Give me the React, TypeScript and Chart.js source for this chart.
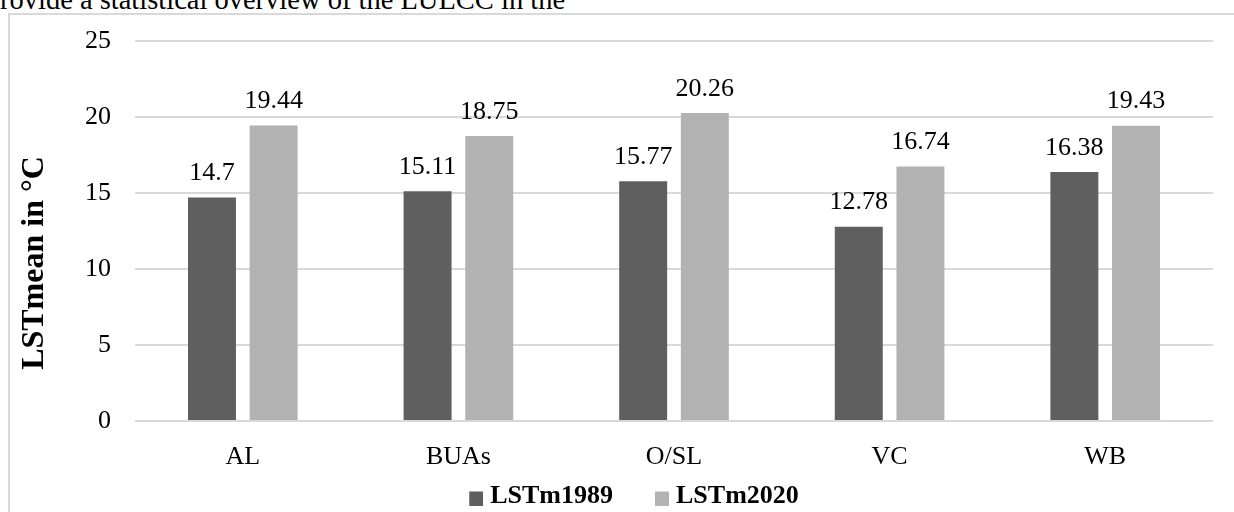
import { useEffect, useRef } from 'react';
import { Chart, registerables } from 'chart.js';

Chart.register(...registerables);

// Land-cover classes and mean land surface temperature (°C) per year
const categories = ['AL', 'BUAs', 'O/SL', 'VC', 'WB'];
const lst1989 = [14.7, 15.11, 15.77, 12.78, 16.38];
const lst2020 = [19.44, 18.75, 20.26, 16.74, 19.43];
const seriesNames = ['LSTm1989', 'LSTm2020'];
const seriesColors = ['#5f5f5f', '#b2b2b2'];
const yTicks = [0, 5, 10, 15, 20, 25];

const SERIF = '"Liberation Serif", "Times New Roman", serif';

// Legend swatch: a 14px square at the right end of a wide, transparent image,
// so it sits just before the label text and level with it
function makeSwatch(color: string): HTMLCanvasElement {
  const c = document.createElement('canvas');
  c.width = 47;
  c.height = 19;
  const g = c.getContext('2d');
  if (g) {
    g.fillStyle = color;
    g.fillRect(33, 5, 14, 14);
  }
  return c;
}

// Writes each bar's value above it
const valueLabels = {
  id: 'valueLabels',
  afterDatasetsDraw(chart: any) {
    const { ctx } = chart;
    ctx.save();
    ctx.font = `26px ${SERIF}`;
    ctx.fillStyle = '#000';
    ctx.textAlign = 'center';
    ctx.textBaseline = 'alphabetic';
    chart.data.datasets.forEach((ds: any, di: number) => {
      const meta = chart.getDatasetMeta(di);
      meta.data.forEach((el: any, i: number) => {
        ctx.fillText(String(ds.data[i]), el.x, el.y - 17.5);
      });
    });
    ctx.restore();
  },
};

function LstChart() {
  const ref = useRef<HTMLCanvasElement | null>(null);

  useEffect(() => {
    if (!ref.current) return;
    const swatches = seriesColors.map(makeSwatch);
    const chart = new Chart(ref.current, {
      type: 'bar',
      data: {
        labels: categories,
        datasets: [
          { label: seriesNames[0], data: lst1989, backgroundColor: seriesColors[0] },
          { label: seriesNames[1], data: lst2020, backgroundColor: seriesColors[1] },
        ],
      },
      options: {
        responsive: false,
        animation: false,
        devicePixelRatio: 1,
        layout: { padding: { top: 41, left: 0, right: 0, bottom: 0 } },
        datasets: { bar: { categoryPercentage: 0.572, barPercentage: 0.778 } },
        scales: {
          x: {
            type: 'category',
            grid: { display: false },
            border: { display: false },
            ticks: { color: '#000', font: { family: SERIF, size: 26 }, padding: 13 },
            afterFit: (s: any) => {
              s.height = 47;
            },
          },
          y: {
            type: 'linear',
            min: yTicks[0],
            max: yTicks[yTicks.length - 1],
            grid: { color: '#d9d9d9', lineWidth: 2, drawTicks: false },
            border: { display: false },
            ticks: {
              stepSize: yTicks[1] - yTicks[0],
              color: '#000',
              font: { family: SERIF, size: 26 },
              padding: 24,
            },
            title: {
              display: true,
              text: 'LSTmean in °C' + '\u00A0'.repeat(8),
              color: '#000',
              font: { family: SERIF, size: 32, weight: 'bold' },
              padding: { top: 16, bottom: 0 },
            },
            afterFit: (s: any) => {
              s.width = 135;
            },
          },
          edge: {
            type: 'linear',
            position: 'right',
            grid: { display: false },
            border: { display: false },
            ticks: { display: false },
            afterFit: (s: any) => {
              s.width = 28;
            },
          },
        },
        plugins: {
          tooltip: { enabled: false },
          legend: {
            position: 'bottom',
            labels: {
              usePointStyle: true,
              pointStyleWidth: 35,
              padding: 15,
              color: '#000',
              font: { family: SERIF, size: 26, weight: 'bold' },
              generateLabels: (c: any) =>
                Chart.defaults.plugins.legend.labels
                  .generateLabels(c)
                  .map((item: any, i: number) => ({ ...item, pointStyle: swatches[i] })),
            },
          },
        },
      } as any,
      plugins: [valueLabels],
    });
    return () => chart.destroy();
  }, []);

  return (
    <canvas
      ref={ref}
      width={1241}
      height={519}
      style={{ position: 'absolute', left: 0, top: 0, width: 1241, height: 519 }}
    />
  );
}

export default function App() {
  return (
    <div
      style={{
        position: 'fixed',
        left: 0,
        top: 0,
        width: 1234,
        height: 512,
        overflow: 'hidden',
        background: '#fff',
      }}
    >
      <div
        style={{
          position: 'absolute',
          left: 0,
          top: -14.3,
          fontFamily: SERIF,
          fontSize: 28.5,
          lineHeight: '28.5px',
          whiteSpace: 'nowrap',
          color: '#000',
        }}
      >
        rovide a statistical overview of the LULCC in the
      </div>
      <div
        style={{
          position: 'absolute',
          left: 8,
          top: 13,
          width: 1400,
          height: 700,
          border: '2px solid #d9d9d9',
        }}
      />
      <LstChart />
    </div>
  );
}
